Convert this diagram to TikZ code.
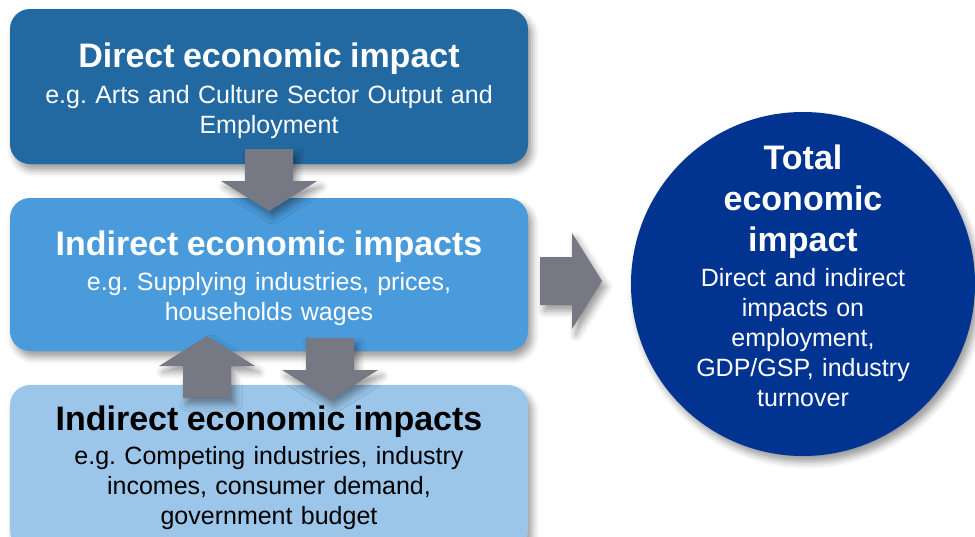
\documentclass[tikz,border=0pt]{standalone}
\usepackage{fontspec}
\setmainfont{Liberation Sans}
\usetikzlibrary{shadows.blur}
\frenchspacing

\definecolor{dunkelblau}{HTML}{2268A1}
\definecolor{mittelblau}{HTML}{4A9BDB}
\definecolor{hellblau}{HTML}{9BC6EA}
\definecolor{marine}{HTML}{003490}
\definecolor{pfeilgrau}{HTML}{767983}

\newcommand{\titel}{\bfseries\fontsize{34}{41}\selectfont}
\newcommand{\unter}{\fontsize{25}{30}\selectfont}

\begin{document}
\begin{tikzpicture}[x=1pt,y=-1pt,
    schatten/.style={blur shadow={shadow xshift=4pt,shadow yshift=-6pt,
        shadow blur radius=7pt,shadow opacity=40}},
    kasten/.style={rectangle,rounded corners=20pt,minimum width=518pt,
        inner sep=0pt,schatten},
    schrift/.style={text width=#1,align=center,font=\unter,inner sep=0pt},
    blockpfeil/.pic={
        \fill[pfeilgrau,schatten] (0,-24) -- (32,-24) -- (32,-48) -- (62,0)
            -- (32,48) -- (32,24) -- (0,24) -- cycle;
    }]
    % Bildausschnitt festlegen (y zeigt nach unten, Einheiten in pt):
    \useasboundingbox (0,0) rectangle (975,536);
    % Die drei Kaesten links, von dunkel nach hell
    % (der unterste geht unten ueber den Rand hinaus):
    \node[kasten,fill=dunkelblau,minimum height=155pt] (direkt) at (269,86.5) {};
    \node[kasten,fill=mittelblau,minimum height=153pt] (indirektA) at (269,274.5) {};
    \node[kasten,fill=hellblau,minimum height=165pt] (indirektB) at (269,467.5) {};
    % Der Kreis rechts:
    \node[circle,fill=marine,minimum size=344pt,inner sep=0pt,schatten] (gesamt) at (803,284) {};
    % Die Texte, jeweils etwas gegen die Mitte verschoben:
    \node[schrift=500pt,text=white] (direkttext) at ([yshift=-4pt]direkt.center)
        {{\titel Direct economic impact}\\[6pt]
         e.g. Arts and Culture Sector Output and\\ Employment};
    \node[schrift=500pt,text=white] (indirektAtext) at ([yshift=-4pt]indirektA.center)
        {{\titel Indirect economic impacts}\\[5pt]
         e.g. Supplying industries, prices,\\ households wages};
    \node[schrift=500pt,text=black] (indirektBtext) at (indirektB.center)
        {{\titel Indirect economic impacts}\\[4pt]
         e.g. Competing industries, industry\\ incomes, consumer demand,\\ government budget};
    \node[schrift=260pt,text=white] (gesamttext) at ([yshift=8pt]gesamt.center)
        {{\titel Total\\ economic\\ impact\\[5pt]}
         Direct and indirect\\ impacts on\\ employment,\\ GDP/GSP, industry\\ turnover};
    % Die grauen Blockpfeile liegen ueber den Kaesten:
    \pic[rotate=-90] (pfeilA) at (269,149) {blockpfeil};
    \pic[rotate=90] (pfeilB) at (207,398) {blockpfeil};
    \pic[rotate=-90] (pfeilC) at (330,338) {blockpfeil};
    \pic (pfeilD) at (540,281) {blockpfeil};
\end{tikzpicture}
\end{document}
